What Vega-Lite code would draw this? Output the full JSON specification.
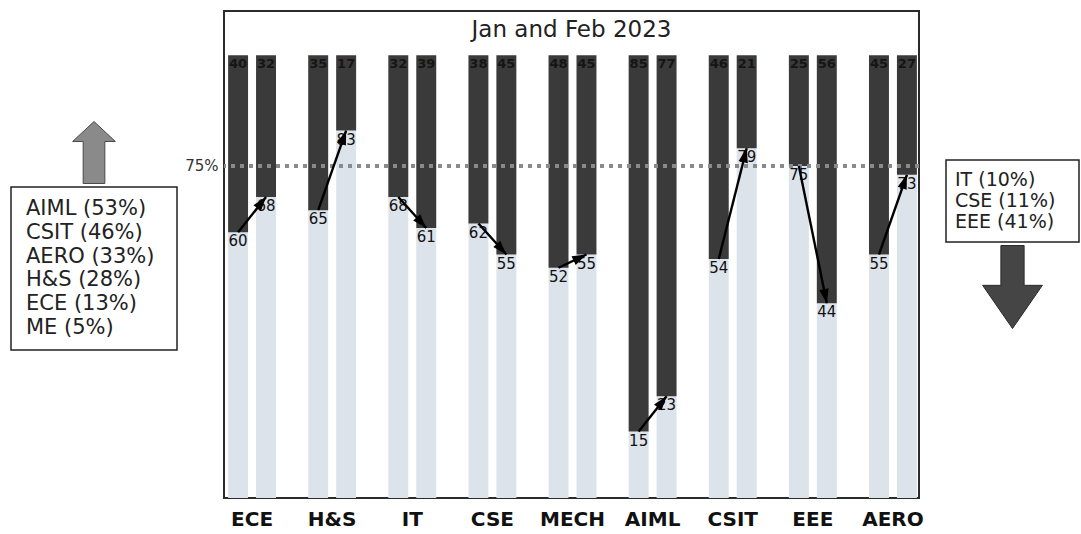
{
  "$schema": "https://vega.github.io/schema/vega-lite/v6.json",
  "padding": {"left": 10, "top": 10, "right": 0, "bottom": 0},
  "config": {"font": "DejaVu Sans", "view": {"stroke": null}},
  "spacing": -9,
  "hconcat": [
    {
      "spacing": 5,
      "hconcat": [
        {
          "spacing": 0,
          "vconcat": [
            {"width": 166, "height": 108, "data": {"values": []}, "mark": "point", "encoding": {}},
            {
              "width": 166, "height": 65,
              "data": {"values": [{"direction": "up"}]},
              "mark": {"type": "point", "shape": "M0,-1 L0.69,-0.355 L0.35,-0.355 L0.35,1 L-0.35,1 L-0.35,-0.355 L-0.69,-0.355 Z", "size": 3844, "filled": true, "fill": "#8a8a8a", "stroke": "#4a4a4a", "strokeWidth": 1, "opacity": 1},
              "encoding": {}
            },
            {
              "width": 166, "height": 163,
              "view": {"stroke": "#222222", "strokeWidth": 1.5},
              "data": {"values": [
                {"dept": "AIML", "pct": 53},
                {"dept": "CSIT", "pct": 46},
                {"dept": "AERO", "pct": 33},
                {"dept": "H&S", "pct": 28},
                {"dept": "ECE", "pct": 13},
                {"dept": "ME", "pct": 5}
              ]},
              "transform": [{"calculate": "datum.dept + ' (' + datum.pct + '%)'", "as": "line"}],
              "mark": {"type": "text", "align": "left", "baseline": "middle", "fontSize": 21, "color": "#222222", "dx": 15},
              "encoding": {
                "y": {"field": "line", "type": "nominal", "sort": null, "scale": {"type": "point", "padding": 0.9}, "axis": null},
                "x": {"datum": 0, "type": "quantitative", "scale": {"domain": [0, 1]}, "axis": null},
                "text": {"field": "line"}
              }
            }
          ]
        },
        {
          "width": 695,
          "height": 487,
          "view": {"stroke": "#2b2b2b", "strokeWidth": 2},
          "title": {"text": "Jan and Feb 2023", "offset": -31, "fontSize": 23, "fontWeight": "normal", "color": "#222222"},
          "data": {"values": [
            {"dept": "ECE", "month": "Jan", "value": 60}, {"dept": "ECE", "month": "Feb", "value": 68},
            {"dept": "H&S", "month": "Jan", "value": 65}, {"dept": "H&S", "month": "Feb", "value": 83},
            {"dept": "IT", "month": "Jan", "value": 68}, {"dept": "IT", "month": "Feb", "value": 61},
            {"dept": "CSE", "month": "Jan", "value": 62}, {"dept": "CSE", "month": "Feb", "value": 55},
            {"dept": "MECH", "month": "Jan", "value": 52}, {"dept": "MECH", "month": "Feb", "value": 55},
            {"dept": "AIML", "month": "Jan", "value": 15}, {"dept": "AIML", "month": "Feb", "value": 23},
            {"dept": "CSIT", "month": "Jan", "value": 54}, {"dept": "CSIT", "month": "Feb", "value": 79},
            {"dept": "EEE", "month": "Jan", "value": 75}, {"dept": "EEE", "month": "Feb", "value": 44},
            {"dept": "AERO", "month": "Jan", "value": 55}, {"dept": "AERO", "month": "Feb", "value": 73}
          ]},
          "layer": [
            {
              "mark": {"type": "bar", "color": "#dde3eb"},
              "encoding": {
                "x": {"field": "dept", "type": "nominal", "sort": null, "scale": {"range": [-12, 709], "paddingInner": 0, "paddingOuter": 0},
                  "axis": {"title": null, "labelAngle": 0, "labelFontSize": 20, "labelFontWeight": "bold", "labelColor": "#111111", "domain": false, "ticks": false, "labelPadding": 11}},
                "xOffset": {"field": "month", "type": "nominal", "sort": ["Jan", "Feb"], "scale": {"paddingInner": 0.286, "paddingOuter": 0.576}},
                "y": {"field": "value", "type": "quantitative", "scale": {"domain": [0, 110], "nice": false},
                  "axis": {"title": null, "values": [75], "labelExpr": "'75%'", "domain": false, "ticks": false, "grid": false, "labelPadding": 6, "labelFontSize": 15, "labelColor": "#333333"}}
              }
            },
            {
              "mark": {"type": "bar", "color": "#3a3a3a"},
              "encoding": {
                "x": {"field": "dept", "type": "nominal", "sort": null},
                "xOffset": {"field": "month", "type": "nominal", "sort": ["Jan", "Feb"]},
                "y": {"field": "value", "type": "quantitative"},
                "y2": {"datum": 100}
              }
            },
            {
              "data": {"values": [{"target": 75}]},
              "mark": {"type": "rule", "color": "#8a8a8a", "strokeWidth": 4, "strokeDash": [4, 5]},
              "encoding": {"y": {"field": "target", "type": "quantitative"}}
            },
            {
              "transform": [{"calculate": "100 - datum.value", "as": "rest"}],
              "mark": {"type": "text", "baseline": "top", "dy": 3, "fontSize": 13, "fontWeight": "bold", "color": "#151515"},
              "encoding": {
                "x": {"field": "dept", "type": "nominal", "sort": null},
                "xOffset": {"field": "month", "type": "nominal", "sort": ["Jan", "Feb"]},
                "y": {"datum": 100, "type": "quantitative"},
                "text": {"field": "rest"}
              }
            },
            {
              "mark": {"type": "text", "baseline": "top", "dy": 2, "fontSize": 15, "color": "#111111"},
              "encoding": {
                "x": {"field": "dept", "type": "nominal", "sort": null},
                "xOffset": {"field": "month", "type": "nominal", "sort": ["Jan", "Feb"]},
                "y": {"field": "value", "type": "quantitative"},
                "text": {"field": "value"}
              }
            },
            {
              "mark": {"type": "line", "color": "#000000", "strokeWidth": 2.4},
              "encoding": {
                "x": {"field": "dept", "type": "nominal", "sort": null},
                "xOffset": {"field": "month", "type": "nominal", "sort": ["Jan", "Feb"]},
                "y": {"field": "value", "type": "quantitative"},
                "detail": {"field": "dept"},
                "order": {"field": "month", "sort": "descending"}
              }
            },
            {
              "transform": [
                {"calculate": "datum.month === 'Jan' ? datum.value : null", "as": "janVal"},
                {"joinaggregate": [{"op": "max", "field": "janVal", "as": "jan"}], "groupby": ["dept"]},
                {"filter": "datum.month === 'Feb'"},
                {"calculate": "atan2(28, (datum.value - datum.jan) * 487 / 110) * 180 / PI", "as": "ang"}
              ],
              "mark": {"type": "point", "shape": "M0,0 L0.6,1.8 L-0.6,1.8 Z", "size": 250, "filled": true, "color": "#000000", "opacity": 1},
              "encoding": {
                "x": {"field": "dept", "type": "nominal", "sort": null},
                "xOffset": {"field": "month", "type": "nominal", "sort": ["Jan", "Feb"]},
                "y": {"field": "value", "type": "quantitative"},
                "angle": {"field": "ang", "type": "quantitative", "scale": null}
              }
            }
          ]
        }
      ]
    },
    {
      "spacing": 0,
      "vconcat": [
        {"width": 133, "height": 148, "data": {"values": []}, "mark": "point", "encoding": {}},
        {
          "width": 133, "height": 82,
          "view": {"stroke": "#222222", "strokeWidth": 1.5},
          "data": {"values": [
            {"dept": "IT", "pct": 10},
            {"dept": "CSE", "pct": 11},
            {"dept": "EEE", "pct": 41}
          ]},
          "transform": [{"calculate": "datum.dept + ' (' + datum.pct + '%)'", "as": "line"}],
          "mark": {"type": "text", "align": "left", "baseline": "middle", "fontSize": 19, "color": "#222222", "dx": 9},
          "encoding": {
            "y": {"field": "line", "type": "nominal", "sort": null, "scale": {"type": "point", "padding": 0.95}, "axis": null},
            "x": {"datum": 0, "type": "quantitative", "scale": {"domain": [0, 1]}, "axis": null},
            "text": {"field": "line"}
          }
        },
        {
          "width": 133, "height": 84,
          "data": {"values": [{"direction": "down"}]},
          "mark": {"type": "point", "shape": "M-0.28,-1 L0.28,-1 L0.28,-0.04 L0.72,-0.04 L0,1 L-0.72,-0.04 L-0.28,-0.04 Z", "size": 6889, "filled": true, "fill": "#454545", "stroke": "#2a2a2a", "strokeWidth": 1, "opacity": 1},
          "encoding": {}
        }
      ]
    }
  ]
}
